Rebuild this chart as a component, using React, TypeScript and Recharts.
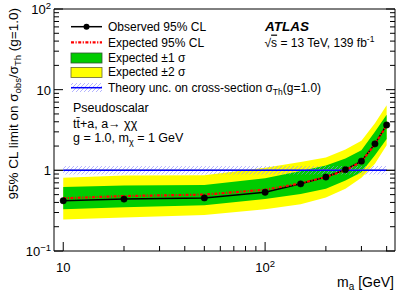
import React from "react";
import {
  ComposedChart,
  Area,
  Line,
  XAxis,
  YAxis,
  ReferenceArea,
  ReferenceLine,
} from "recharts";

// ---- data ----
const massPoints = [10, 20, 50, 100, 150, 200, 250, 300, 350, 400];
const observedLimit = [0.42, 0.44, 0.455, 0.535, 0.68, 0.825, 1.02, 1.3, 2.13, 3.65];
const expectedLimit = [0.45, 0.48, 0.5, 0.575, 0.69, 0.826, 1.0, 1.28, 2.1, 3.6];
const oneSigmaLow = [0.33, 0.348, 0.37, 0.44, 0.51, 0.59, 0.75, 0.95, 1.54, 2.45];
const oneSigmaHigh = [0.62, 0.65, 0.66, 0.8, 0.98, 1.15, 1.4, 1.78, 3.0, 4.9];
const twoSigmaLow = [0.245, 0.26, 0.28, 0.33, 0.38, 0.46, 0.59, 0.81, 1.21, 2.05];
const twoSigmaHigh = [0.81, 0.86, 0.87, 1.08, 1.27, 1.44, 1.81, 2.32, 3.83, 6.4];
const theoryBand = [0.885, 1.13];
const theoryRange = [10, 400];

const xDomain = [9, 440];
const yDomain = [0.1, 100];
const xTicks = [10, 20, 30, 40, 50, 60, 70, 80, 90, 100, 200, 300, 400];
const xMajor = [10, 100];
const yTicks = [
  0.1, 0.2, 0.3, 0.4, 0.5, 0.6, 0.7, 0.8, 0.9,
  1, 2, 3, 4, 5, 6, 7, 8, 9,
  10, 20, 30, 40, 50, 60, 70, 80, 90, 100,
];
const yMajor = [0.1, 1, 10, 100];

const data = massPoints.map((m, i) => ({
  m,
  obs: observedLimit[i],
  exp: expectedLimit[i],
  one: [oneSigmaLow[i], oneSigmaHigh[i]],
  two: [twoSigmaLow[i], twoSigmaHigh[i]],
}));

const FONT = "'Liberation Sans', Arial, Helvetica, sans-serif";
const GREEN = "#00cc00";
const YELLOW = "#ffff00";
const MAJ = 9;
const MIN = 5;

const powLabel = (v: number) => {
  if (v === 1) return { base: "1", sup: "" };
  if (v === 10) return { base: "10", sup: "" };
  if (v === 100) return { base: "10", sup: "2" };
  if (v === 0.1) return { base: "10", sup: "\u22121" };
  return { base: String(v), sup: "" };
};

const XBottomTick = (props: any) => {
  const { x, y, payload } = props;
  const v = payload.value;
  const major = xMajor.includes(v);
  const lab = powLabel(v);
  return (
    <g>
      <line x1={x} y1={y} x2={x} y2={y - (major ? MAJ : MIN)} stroke="#000" strokeWidth={1} />
      {major && (
        <text x={x} y={y + 21} textAnchor="middle" fontFamily={FONT} fontSize={13} fill="#000">
          {lab.base}
          {lab.sup && (
            <tspan dy={-5} fontSize={9.5}>
              {lab.sup}
            </tspan>
          )}
        </text>
      )}
    </g>
  );
};

const XTopTick = (props: any) => {
  const { x, y, payload } = props;
  const major = xMajor.includes(payload.value);
  return <line x1={x} y1={y} x2={x} y2={y + (major ? MAJ : MIN)} stroke="#000" strokeWidth={1} />;
};

const YLeftTick = (props: any) => {
  const { x, y, payload } = props;
  const v = payload.value;
  const major = yMajor.includes(v);
  const lab = powLabel(v);
  return (
    <g>
      <line x1={x} y1={y} x2={x + (major ? MAJ : MIN)} y2={y} stroke="#000" strokeWidth={1} />
      {major && (
        <text x={x - 3} y={y + 5} textAnchor="end" fontFamily={FONT} fontSize={13} fill="#000">
          {lab.base}
          {lab.sup && (
            <tspan dy={-5} fontSize={9.5}>
              {lab.sup}
            </tspan>
          )}
        </text>
      )}
    </g>
  );
};

const YRightTick = (props: any) => {
  const { x, y, payload } = props;
  const major = yMajor.includes(payload.value);
  return <line x1={x} y1={y} x2={x - (major ? MAJ : MIN)} y2={y} stroke="#000" strokeWidth={1} />;
};

export default function App() {
  return (
    <div style={{ position: "absolute", left: 0, top: 0, width: 407, height: 292, background: "#fff" }}>
      <svg width={0} height={0} style={{ position: "absolute" }}>
        <defs>
          <pattern id="hatch" patternUnits="userSpaceOnUse" width="4" height="4">
            <path d="M-1,1 l2,-2 M0,4 l4,-4 M3,5 l2,-2" stroke="#8a8aff" strokeWidth={0.8} strokeOpacity={0.8} />
          </pattern>
        </defs>
      </svg>
      <ComposedChart
        width={407}
        height={292}
        data={data}
        margin={{ top: 0, right: 0, bottom: 0, left: 0 }}
      >
        <XAxis
          xAxisId="b"
          dataKey="m"
          type="number"
          scale="log"
          domain={xDomain}
          allowDataOverflow
          ticks={xTicks}
          interval={0}
          height={41}
          tickSize={0}
          tickMargin={0}
          tickLine={false}
          axisLine={{ stroke: "#000", strokeWidth: 1 }}
          tick={<XBottomTick />}
        />
        <XAxis
          xAxisId="t"
          orientation="top"
          type="number"
          scale="log"
          domain={xDomain}
          allowDataOverflow
          ticks={xTicks}
          interval={0}
          height={9}
          tickSize={0}
          tickMargin={0}
          tickLine={false}
          axisLine={{ stroke: "#000", strokeWidth: 1 }}
          tick={<XTopTick />}
        />
        <YAxis
          yAxisId="l"
          type="number"
          scale="log"
          domain={yDomain}
          allowDataOverflow
          ticks={yTicks}
          interval={0}
          width={54}
          tickSize={0}
          tickMargin={0}
          tickLine={false}
          axisLine={{ stroke: "#000", strokeWidth: 1 }}
          tick={<YLeftTick />}
        />
        <YAxis
          yAxisId="r"
          orientation="right"
          type="number"
          scale="log"
          domain={yDomain}
          allowDataOverflow
          ticks={yTicks}
          interval={0}
          width={12}
          tickSize={0}
          tickMargin={0}
          tickLine={false}
          axisLine={{ stroke: "#000", strokeWidth: 1 }}
          tick={<YRightTick />}
        />
        <Area
          xAxisId="b"
          yAxisId="l"
          dataKey="two"
          type="linear"
          fill={YELLOW}
          fillOpacity={1}
          stroke="none"
          isAnimationActive={false}
          activeDot={false}
        />
        <Area
          xAxisId="b"
          yAxisId="l"
          dataKey="one"
          type="linear"
          fill={GREEN}
          fillOpacity={1}
          stroke="none"
          isAnimationActive={false}
          activeDot={false}
        />
        <ReferenceLine xAxisId="b" yAxisId="l" y={1} stroke="#999" strokeWidth={1.5} />
        <ReferenceArea
          xAxisId="b"
          yAxisId="l"
          x1={theoryRange[0]}
          x2={theoryRange[1]}
          y1={theoryBand[0]}
          y2={theoryBand[1]}
          fill="url(#hatch)"
          fillOpacity={1}
          stroke="none"
        />
        <ReferenceLine
          xAxisId="b"
          yAxisId="l"
          segment={[
            { x: theoryRange[0], y: 1 },
            { x: theoryRange[1], y: 1 },
          ]}
          stroke="#0000ff"
          strokeWidth={1.5}
        />
        <Line
          xAxisId="b"
          yAxisId="l"
          dataKey="obs"
          type="linear"
          stroke="#000"
          strokeWidth={1.5}
          dot={{ r: 3.2, fill: "#000", stroke: "#000", strokeWidth: 0.5 }}
          activeDot={false}
          isAnimationActive={false}
        />
        <Line
          xAxisId="b"
          yAxisId="l"
          dataKey="exp"
          type="linear"
          stroke="#ff0000"
          strokeWidth={2.2}
          strokeDasharray="3 1.5 1.2 1.5"
          dot={false}
          activeDot={false}
          isAnimationActive={false}
        />
      </ComposedChart>
      <svg
        width={407}
        height={292}
        style={{ position: "absolute", left: 0, top: 0, pointerEvents: "none" }}
        fontFamily={FONT}
      >
        {/* legend */}
        <line x1={71} y1={26.7} x2={102} y2={26.7} stroke="#000" strokeWidth={1.5} />
        <circle cx={86.5} cy={26.7} r={3} fill="#000" />
        <text x={108} y={31} fontSize={12}>Observed 95% CL</text>
        <line x1={71} y1={42.3} x2={102} y2={42.3} stroke="#ff0000" strokeWidth={2.2} strokeDasharray="3 1.5 1.2 1.5" />
        <text x={108} y={46.6} fontSize={12}>Expected 95% CL</text>
        <rect x={71} y={53} width={31} height={10} fill={GREEN} stroke="#335533" strokeWidth={0.8} />
        <text x={108} y={62} fontSize={12}>Expected ±1 σ</text>
        <rect x={71} y={67.5} width={31} height={10} fill={YELLOW} stroke="#666633" strokeWidth={0.8} />
        <text x={108} y={76.4} fontSize={12}>Expected ±2 σ</text>
        <rect x={71} y={83} width={31} height={9} fill="url(#hatch)" />
        <line x1={71} y1={87.7} x2={102} y2={87.7} stroke="#0000ff" strokeWidth={1.5} />
        <text x={108} y={92} fontSize={12}>
          Theory unc. on cross-section σ
          <tspan dy={3} fontSize={8.5}>Th</tspan>
          <tspan dy={-3}>(g=1.0)</tspan>
        </text>

        {/* ATLAS label */}
        <text x={265} y={31.3} fontSize={13.5} fontWeight="bold" fontStyle="italic">ATLAS</text>
        <text x={264.5} y={46.6} fontSize={12}>
          √<tspan style={{ textDecoration: "overline" }}>s</tspan> = 13 TeV, 139 fb
          <tspan dy={-5} fontSize={8.5}>-1</tspan>
        </text>

        {/* model text */}
        <text x={73} y={112} fontSize={12.5}>Pseudoscalar</text>
        <text x={73} y={127.5} fontSize={12.5}>tt̄+a, a→ χχ</text>
        <text x={73} y={141.5} fontSize={12.5}>
          g = 1.0,  m
          <tspan dy={3} fontSize={9}>χ</tspan>
          <tspan dy={-3}> = 1 GeV</tspan>
        </text>

        {/* axis titles */}
        <text transform="translate(18,8) rotate(-90)" textAnchor="end" fontSize={13.5}>
          95% CL limit on σ
          <tspan dy={3} fontSize={9.5}>obs</tspan>
          <tspan dy={-3}>/σ</tspan>
          <tspan dy={3} fontSize={9.5}>Th</tspan>
          <tspan dy={-3}> (g=1.0)</tspan>
        </text>
        <text x={394} y={287} textAnchor="end" fontSize={14}>
          m<tspan dy={3} fontSize={10}>a</tspan>
          <tspan dy={-3}> [GeV]</tspan>
        </text>
      </svg>
    </div>
  );
}
